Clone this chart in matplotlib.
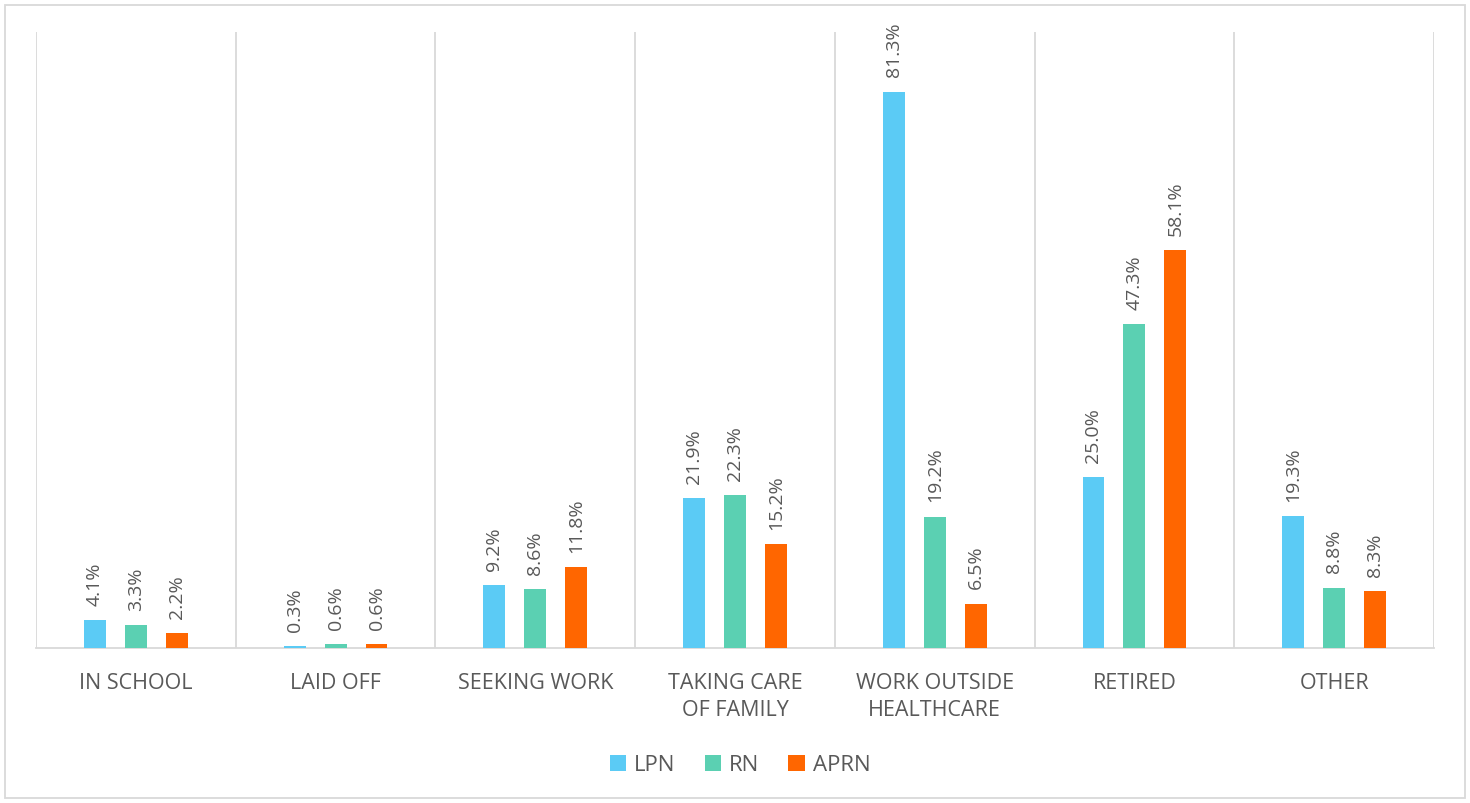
import matplotlib
matplotlib.use("Agg")
import matplotlib.pyplot as plt
import numpy as np
from matplotlib.patches import Rectangle

categories = ["IN SCHOOL", "LAID OFF", "SEEKING WORK", "TAKING CARE\nOF FAMILY",
              "WORK OUTSIDE\nHEALTHCARE", "RETIRED", "OTHER"]
series_names = ["LPN", "RN", "APRN"]
lpn = [4.1, 0.3, 9.2, 21.9, 81.3, 25.0, 19.3]
rn = [3.3, 0.6, 8.6, 22.3, 19.2, 47.3, 8.8]
aprn = [2.2, 0.6, 11.8, 15.2, 6.5, 58.1, 8.3]
colors = ["#5BCBF5", "#5BD0B2", "#FF6600"]

plt.rcParams['font.family'] = ['Open Sans', 'DejaVu Sans']
fig = plt.figure(figsize=(14.7, 8.04), dpi=100)
ax = fig.add_axes([36/1470, 1-649/804, (1434-36)/1470, (649-33)/804])

x = np.arange(len(categories))
width = 0.11
offsets = [-0.205, 0.0, 0.205]
text_color = "#595959"
for vals, name, col, off in zip([lpn, rn, aprn], series_names, colors, offsets):
    bars = ax.bar(x + off, vals, width=width, color=col, label=name, zorder=3)
    for b, v in zip(bars, vals):
        ax.annotate(f"{v:.1f}%", (b.get_x() + b.get_width()/2, v),
                    xytext=(0, 11), textcoords="offset points",
                    rotation=90, ha="center", va="bottom",
                    fontsize=14, color=text_color)

ax.set_xlim(-0.5, len(categories) - 0.5)
ax.set_ylim(0, 90)
ax.set_yticks([])
ax.set_xticks(x)
ax.set_xticklabels(categories, fontsize=15.5, color=text_color, linespacing=1.4)
ax.tick_params(axis='x', length=0, pad=17)
for xb in np.arange(-0.5, len(categories), 1.0):
    ax.axvline(xb, color="#D9D9D9", lw=1.3, zorder=1)
for s in ["top", "right", "left"]:
    ax.spines[s].set_visible(False)
ax.spines["bottom"].set_color("#D9D9D9")
ax.spines["bottom"].set_linewidth(1.3)

leg = fig.legend(loc="center", bbox_to_anchor=(740/1470, 1-766/804), ncol=3,
                 frameon=False, fontsize=16, handlelength=0.75, handleheight=0.75,
                 handletextpad=0.35, columnspacing=1.3)
for t in leg.get_texts():
    t.set_color(text_color)

fig.patches.append(Rectangle((5/1470, 5/804), 1460/1470, 793/804, transform=fig.transFigure,
                             fill=False, edgecolor="#D9D9D9", lw=1.3))
fig.savefig("out.png", dpi=100, facecolor="white")
